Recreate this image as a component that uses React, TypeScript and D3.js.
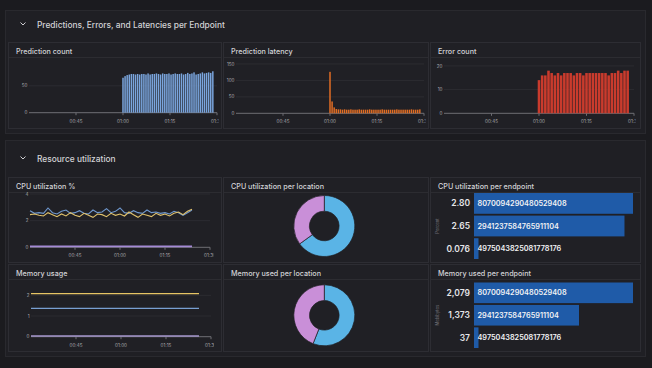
import React from "react";
import * as d3 from "d3";

const W = 652;
const H = 368;
const FONT = "Inter, 'Noto Sans', sans-serif";

const PAGE_BG = "#1b1b1f";
const SECTION_BG = "#1f1f24";
const SECTION_BORDER = "#29292e";
const PANEL_BG = "#202025";
const PANEL_BORDER = "#2d2d33";
const GRID = "#2c2c31";
const AXIS = "#6e6e74";
const TICK_TEXT = "#a9a9ae";
const TITLE_TEXT = "#d3d3d6";

// ---- data ----
const predCount = [65, 68, 70, 71, 72, 72, 71, 72, 71, 72, 72, 71, 73, 71, 72, 72, 73, 72, 71, 73, 72, 72, 73, 71, 72, 73, 72, 72, 73, 71, 72, 74, 72, 73, 75, 71, 72, 73, 75, 73, 74, 75, 74, 77];
const predLatency = [126, 36, 18, 13, 12, 12, 11, 12, 11, 11, 12, 11, 11, 11, 12, 11, 11, 11, 11, 12, 11, 11, 11, 11, 11, 12, 11, 11, 11, 11, 11, 11, 12, 11, 11, 11, 11, 11, 11, 12, 11, 11, 11, 12];
const errorCount = [14, 16, 16, 18, 17, 16, 17, 16, 17, 17, 17, 16, 17, 17, 16, 17, 17, 17, 17, 17, 17, 17, 16, 17, 17, 18, 17, 18, 18];

const cpuBlue = [2.75, 2.55, 2.6, 2.55, 2.95, 2.6, 2.5, 2.7, 2.8, 2.55, 2.6, 2.75, 2.55, 2.5, 2.8, 2.6, 2.65, 2.9, 2.6, 2.7, 2.95, 2.6, 2.55, 2.75, 2.6, 2.55, 2.8, 2.6, 2.65, 2.55, 2.6, 2.5, 2.7, 2.6, 2.4, 2.6, 2.8];
const cpuYellow = [2.45, 2.5, 2.4, 2.35, 2.6, 2.45, 2.3, 2.5, 2.35, 2.6, 2.4, 2.3, 2.55, 2.4, 2.25, 2.5, 2.45, 2.3, 2.55, 2.4, 2.5, 2.35, 2.65, 2.45, 2.25, 2.5, 2.4, 2.3, 2.55, 2.4, 2.5, 2.35, 2.55, 2.65, 2.45, 2.7, 2.85];
const cpuPurple = [0.07, 0.07, 0.07, 0.07, 0.07, 0.07, 0.07, 0.07, 0.07, 0.07, 0.07, 0.07, 0.07, 0.07, 0.07, 0.07, 0.07, 0.07, 0.07, 0.07, 0.07, 0.07, 0.07, 0.07, 0.07, 0.07, 0.07, 0.07, 0.07, 0.07, 0.07, 0.07, 0.07, 0.07, 0.07, 0.07, 0.07];

const memMinutes = [0, 28, 56];
const memYellow = [2.079, 2.079, 2.079];
const memBlue = [1.373, 1.373, 1.373];
const memPurple = [0.037, 0.037, 0.037];

const locations = ["location-1", "location-2"];
const cpuLocation = [65, 35];
const memLocation = [56, 44];

const endpoints = ["8070094290480529408", "2941237584765911104", "4975043825081778176"];
const cpuEndpoint = [2.8, 2.65, 0.076];
const cpuEndpointText = ["2.80", "2.65", "0.076"];
const memEndpoint = [2079, 1373, 37];

// ---- helpers ----
const at = (h: number, m: number, s = 0) => new Date(2024, 0, 1, h, m, s);
const T0 = at(0, 30);
const T1 = at(1, 30);
const fmtTime = d3.timeFormat("%H:%M");

function Panel({ id, x, y, w, h, title, clipRight, children }: any) {
  const cr = clipRight ?? x + w - 6;
  return (
    <g>
      <clipPath id={id}>
        <rect x={x} y={y} width={cr - x} height={h} />
      </clipPath>
      <rect x={x + 0.5} y={y + 0.5} width={w - 1} height={h - 1} fill={PANEL_BG} stroke={PANEL_BORDER} />
      <text x={x + 8} y={y + 11.5} fill={TITLE_TEXT} fontSize={7.2} fontWeight={500} fontFamily={FONT}>
        {title}
      </text>
      <line x1={x + 1} x2={x + w - 1} y1={y + 15.5} y2={y + 15.5} stroke={GRID} />
      <g clipPath={`url(#${id})`}>{children}</g>
    </g>
  );
}

function TimeAxes({ xs, ys, yTicks }: any) {
  const [x0, x1] = xs.range();
  const y0 = ys(0);
  const ticks = xs.ticks(d3.timeMinute.every(15)).filter((t: Date) => +t > +T0);
  return (
    <g fontFamily={FONT} fontSize={4.6} fill={TICK_TEXT}>
      {yTicks.map((v: number) => (
        <g key={v}>
          {v !== 0 && <line x1={x0} x2={x1} y1={ys(v)} y2={ys(v)} stroke={GRID} />}
          <text x={x0 - 1.5} y={ys(v)} dy="0.35em" textAnchor="end">
            {v}
          </text>
        </g>
      ))}
      <line x1={x0} x2={x1} y1={y0} y2={y0} stroke={AXIS} strokeWidth={1} />
      {ticks.map((t: Date) => (
        <g key={+t}>
          <line x1={xs(t)} x2={xs(t)} y1={y0} y2={y0 + 2.5} stroke={AXIS} />
          <text x={xs(t)} y={y0 + 10} textAnchor="middle">
            {fmtTime(t)}
          </text>
        </g>
      ))}
    </g>
  );
}

function BarPanel({ id, x, w, title, xRange, yRange, yMax, yTicks, values, stepSec, color }: any) {
  const xs = d3.scaleTime().domain([T0, T1]).range(xRange);
  const ys = d3.scaleLinear().domain([0, yMax]).range(yRange);
  const start = at(1, 0);
  const bw = xs(new Date(+start + stepSec * 1000)) - xs(start);
  return (
    <Panel id={id} x={x} y={42} w={w} h={87} title={title} clipRight={xRange[1] + 1.5}>
      <TimeAxes xs={xs} ys={ys} yTicks={yTicks} />
      {values.map((v: number, i: number) => {
        const t = new Date(+start + i * stepSec * 1000);
        const cx = xs(t);
        return (
          <rect
            key={i}
            x={cx - bw / 2 + 0.3}
            y={ys(v)}
            width={bw - 0.6}
            height={ys(0) - ys(v)}
            fill={color}
          />
        );
      })}
    </Panel>
  );
}

function Donut({ id, x, y, w, h, title, values, cy }: any) {
  const cx = 324.3;
  const pie = d3.pie<number>().sort(null).value((d) => d)(values);
  const arc = d3.arc<d3.PieArcDatum<number>>().innerRadius(14.8).outerRadius(30.5);
  const colors = ["#5ab4e6", "#c98fd8"];
  return (
    <Panel id={id} x={x} y={y} w={w} h={h} title={title}>
      <g transform={`translate(${cx},${cy})`}>
        {pie.map((p, i) => (
          <path key={locations[i]} d={arc(p) || ""} fill={colors[i]} stroke="#1f1f24" strokeWidth={0.7} />
        ))}
      </g>
    </Panel>
  );
}

function EndpointBars({ id, x, y, w, h, title, values, labels, axisTitle, bandRange }: any) {
  const xs = d3.scaleLinear().domain([0, d3.max(values) as number]).range([474, 633]);
  const ys = d3.scaleBand().domain(endpoints).range(bandRange).paddingInner(0.08);
  const mid = (bandRange[0] + bandRange[1]) / 2;
  return (
    <Panel id={id} x={x} y={y} w={w} h={h} title={title}>
      <text
        transform={`translate(438.5,${mid}) rotate(-90)`}
        textAnchor="middle"
        fontSize={4.2}
        fill="#6a6a70"
        fontFamily={FONT}
      >
        {axisTitle}
      </text>
      {endpoints.map((e, i) => {
        const by = ys(e) as number;
        const bh = ys.bandwidth();
        return (
          <g key={e} fontFamily={FONT}>
            <rect x={xs(0)} y={by} width={Math.max(xs(values[i]) - xs(0), 4.5)} height={bh} fill="#1f5ba8" />
            <text x={470} y={by + bh / 2} dy="0.36em" textAnchor="end" fontSize={8.5} fontWeight={600} fill="#e6e6e9">
              {labels[i]}
            </text>
            <text x={477.5} y={by + bh / 2} dy="0.36em" fontSize={7.3} fontWeight={600} fill="#f2f2f4">
              {e}
            </text>
          </g>
        );
      })}
    </Panel>
  );
}

function SectionHeader({ y, text }: any) {
  return (
    <g>
      <path d={`M20.5,${y - 5} L23,${y - 2.5} L25.5,${y - 5}`} fill="none" stroke="#cfcfd3" strokeWidth={1} />
      <text x={37} y={y} fill={TITLE_TEXT} fontSize={8.4} fontWeight={500} fontFamily={FONT}>
        {text}
      </text>
    </g>
  );
}

export default function App() {
  // CPU utilization
  const cpuX = d3.scaleTime().domain([T0, T1]).range([30, 210]);
  const cpuY = d3.scaleLinear().domain([0, 4.15]).range([247.3, 192]);
  const cpuTime = (i: number) => new Date(+T0 + i * 90 * 1000);
  const cpuLine = d3
    .line<number>()
    .x((_, i) => cpuX(cpuTime(i)))
    .y((d) => cpuY(d));

  // Memory usage
  const memX = d3.scaleTime().domain([T0, T1]).range([31, 211]);
  const memY = d3.scaleLinear().domain([0, 2.5]).range([336.7, 285]);
  const memLine = d3
    .line<number>()
    .x((_, i) => memX(new Date(+T0 + memMinutes[i] * 60000)))
    .y((d) => memY(d));

  return (
    <div style={{ position: "absolute", left: 0, top: 0 }}>
      <svg width={W} height={H} style={{ display: "block" }}>
        <rect width={W} height={H} fill={PAGE_BG} />

        <rect x={5.5} y={10.5} width={640} height={123} fill={SECTION_BG} stroke={SECTION_BORDER} />
        <SectionHeader y={27.5} text="Predictions, Errors, and Latencies per Endpoint" />

        <BarPanel
          id="c1"
          x={8}
          w={214}
          title="Prediction count"
          xRange={[29, 217]}
          yRange={[112.7, 60]}
          yMax={98}
          yTicks={[0, 50]}
          values={predCount}
          stepSec={40}
          color="#7aa5dd"
        />
        <BarPanel
          id="c2"
          x={223}
          w={206}
          title="Prediction latency"
          xRange={[236, 424]}
          yRange={[113.3, 60]}
          yMax={162}
          yTicks={[0, 50, 100, 150]}
          values={predLatency}
          stepSec={40}
          color="#e06d24"
        />
        <BarPanel
          id="c3"
          x={430}
          w={211}
          title="Error count"
          xRange={[444, 634]}
          yRange={[113.3, 60]}
          yMax={22.5}
          yTicks={[0, 10, 20]}
          values={errorCount}
          stepSec={60}
          color="#c93b2d"
        />

        <rect x={5.5} y={140.5} width={640} height={216} fill={SECTION_BG} stroke={SECTION_BORDER} />
        <SectionHeader y={161.5} text="Resource utilization" />

        <Panel id="c4" x={8} y={177} w={214} h={86} title="CPU utilization %" clipRight={213.5}>
          <TimeAxes xs={cpuX} ys={cpuY} yTicks={[0, 2, 4]} />
          <path d={cpuLine(cpuPurple) || ""} fill="none" stroke="#a48ad6" strokeWidth={1.6} />
          <path d={cpuLine(cpuBlue) || ""} fill="none" stroke="#6f98cf" strokeWidth={1.1} />
          <path d={cpuLine(cpuYellow) || ""} fill="none" stroke="#dfc16c" strokeWidth={1.1} />
        </Panel>

        <Donut id="c5" x={223} y={177} w={206} h={86} title="CPU utilization per location" values={cpuLocation} cy={226} />

        <EndpointBars
          id="c6"
          x={430}
          y={177}
          w={211}
          h={86}
          title="CPU utilization per endpoint"
          values={cpuEndpoint}
          labels={cpuEndpointText}
          axisTitle="Percent"
          bandRange={[193, 259]}
        />

        <Panel id="c7" x={8} y={264} w={214} h={88} title="Memory usage" clipRight={214}>
          <TimeAxes xs={memX} ys={memY} yTicks={[0, 1, 2]} />
          <path d={memLine(memPurple) || ""} fill="none" stroke="#a596cc" strokeWidth={1.4} />
          <path d={memLine(memBlue) || ""} fill="none" stroke="#789fd2" strokeWidth={1.2} />
          <path d={memLine(memYellow) || ""} fill="none" stroke="#e6c464" strokeWidth={1.2} />
        </Panel>

        <Donut id="c8" x={223} y={264} w={206} h={88} title="Memory used per location" values={memLocation} cy={315.3} />

        <EndpointBars
          id="c9"
          x={430}
          y={264}
          w={211}
          h={88}
          title="Memory used per endpoint"
          values={memEndpoint}
          labels={memEndpoint.map((v) => d3.format(",")(v))}
          axisTitle="Mebibytes"
          bandRange={[282.5, 348]}
        />
      </svg>
    </div>
  );
}
